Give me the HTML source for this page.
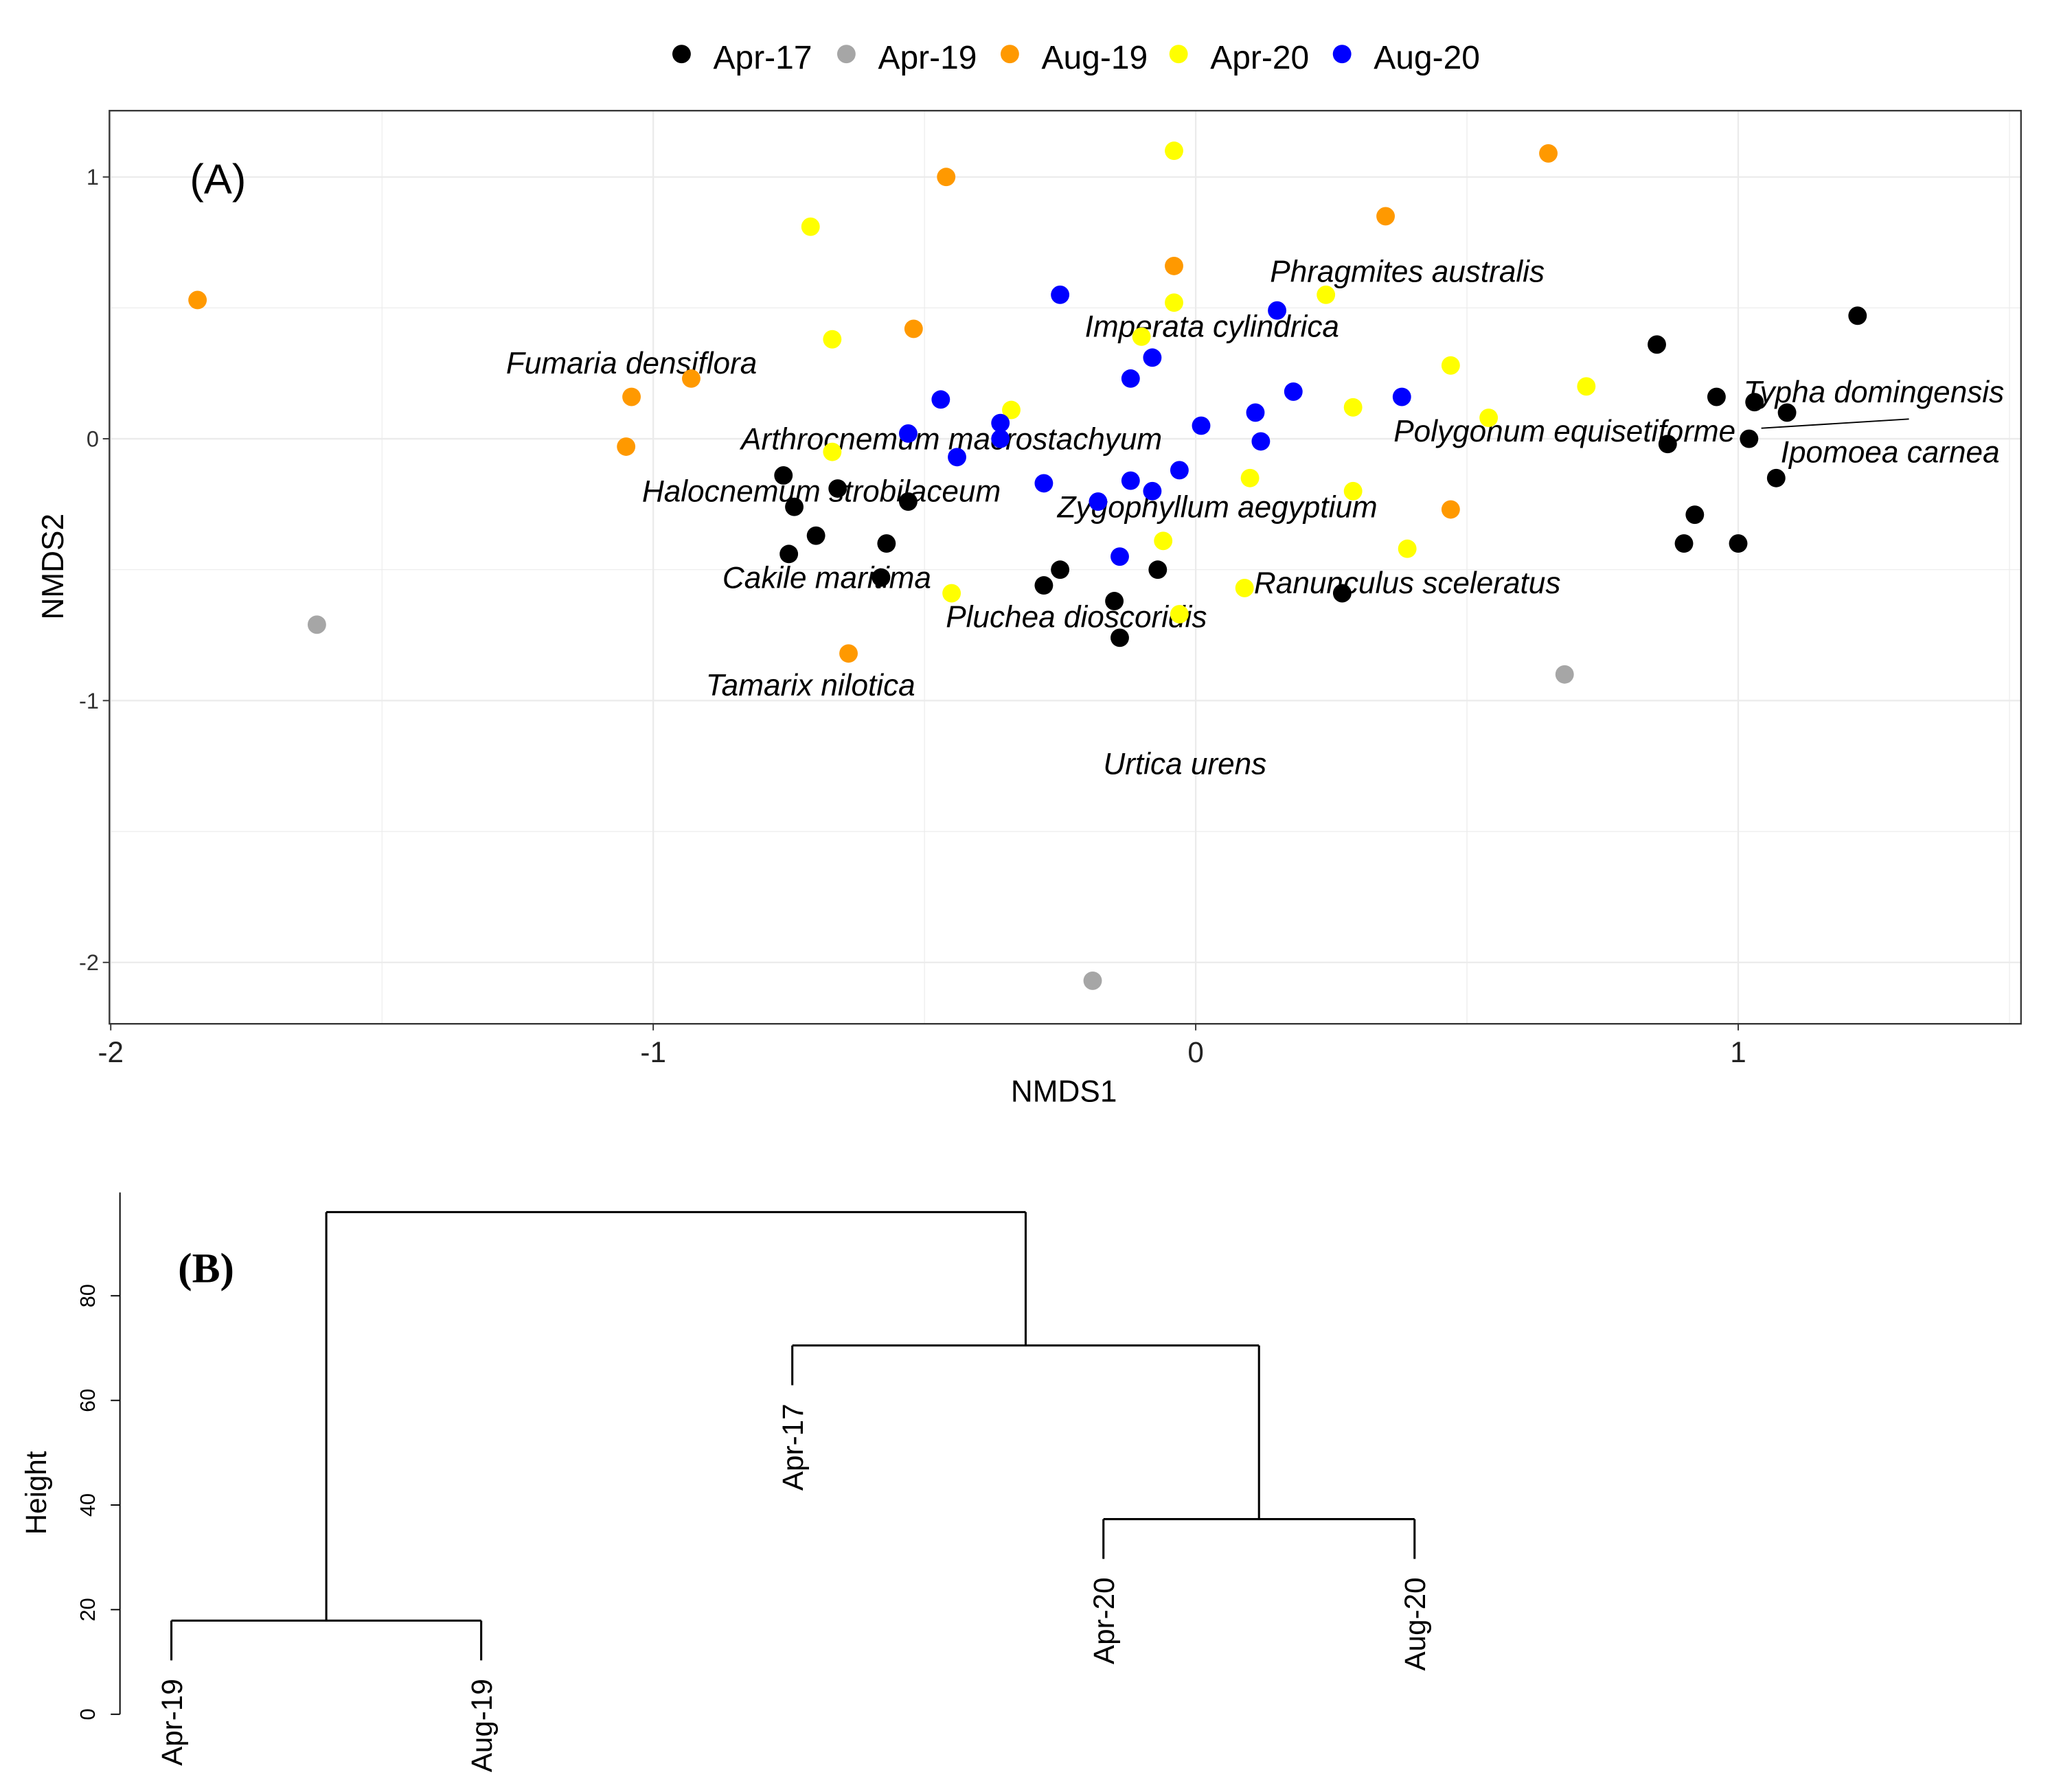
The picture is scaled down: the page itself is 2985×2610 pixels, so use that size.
<!DOCTYPE html>
<html><head><meta charset="utf-8"><style>
html,body{margin:0;padding:0;background:#fff;width:2985px;height:2610px;overflow:hidden}
svg{display:block}
text{font-family:"Liberation Sans",sans-serif}
</style></head><body>
<svg id="c" width="2985" height="2610" viewBox="0 0 1555 1360" preserveAspectRatio="none" xmlns="http://www.w3.org/2000/svg">
<rect width="1555" height="1360" fill="#fff"/>
<g id="pa"></g>
<g id="pb"></g>
</svg>
<script>
const groups = ["Apr-17","Apr-19","Aug-19","Apr-20","Aug-20"];
const colors = ["#000000","#a6a6a6","#ff9900","#ffff00","#0000ff"];
const apr17X = [-0.76,-0.74,-0.66,-0.53,-0.70,-0.75,-0.57,-0.58,-0.25,-0.28,-0.07,-0.15,-0.14,0.27,0.85,1.22,0.96,1.03,1.09,0.87,1.02,1.07,0.92,0.90,1.00];
const apr17Y = [-0.14,-0.26,-0.19,-0.24,-0.37,-0.44,-0.40,-0.53,-0.50,-0.56,-0.50,-0.62,-0.76,-0.59,0.36,0.47,0.16,0.14,0.10,-0.02,0.00,-0.15,-0.29,-0.40,-0.40];
const apr19X = [-1.62,0.68,-0.19];
const apr19Y = [-0.71,-0.90,-2.07];
const aug19X = [-1.84,-0.46,0.65,0.35,-0.04,-0.52,-0.93,-1.04,-1.05,0.47,-0.64];
const aug19Y = [0.53,1.00,1.09,0.85,0.66,0.42,0.23,0.16,-0.03,-0.27,-0.82];
const apr20X = [-0.71,-0.04,-0.04,-0.67,-0.10,0.24,0.47,0.72,-0.34,0.29,0.54,-0.67,0.10,0.29,-0.06,0.39,-0.45,0.09,-0.03];
const apr20Y = [0.81,1.10,0.52,0.38,0.39,0.55,0.28,0.20,0.11,0.12,0.08,-0.05,-0.15,-0.20,-0.39,-0.42,-0.59,-0.57,-0.67];
const aug20X = [-0.25,0.15,-0.08,-0.12,0.18,-0.47,0.38,-0.53,-0.36,-0.36,0.01,0.11,0.12,-0.44,-0.28,-0.12,-0.03,-0.18,-0.08,-0.14];
const aug20Y = [0.55,0.49,0.31,0.23,0.18,0.15,0.16,0.02,0.06,0.00,0.05,0.10,-0.01,-0.07,-0.17,-0.16,-0.12,-0.24,-0.20,-0.45];
const xTicks = [-2,-1,0,1];
const yTicks = [1,0,-1,-2];
const species = ["Phragmites australis","Imperata cylindrica","Fumaria densiflora","Typha domingensis","Polygonum equisetiforme","Arthrocnemum macrostachyum","Ipomoea carnea","Halocnemum strobilaceum","Zygophyllum aegyptium","Cakile maritima","Ranunculus sceleratus","Pluchea dioscoridis","Tamarix nilotica","Urtica urens"];
const speciesX = [0.39,0.03,-1.04,1.25,0.68,-0.45,1.28,-0.69,0.04,-0.68,0.39,-0.22,-0.71,-0.02];
const speciesY = [0.64,0.43,0.29,0.18,0.03,0.00,-0.05,-0.20,-0.26,-0.53,-0.55,-0.68,-0.94,-1.24];
const leaves = ["Apr-19","Aug-19","Apr-17","Apr-20","Aug-20"];
const mergeH = [17.9,37.3,70.5,96.0];
const hTicks = [0,20,40,60,80];

const NS="http://www.w3.org/2000/svg";
function mk(tag, attrs, parent, txt){const e=document.createElementNS(NS,tag);for(const k in attrs)e.setAttribute(k,attrs[k]);if(txt!==undefined)e.textContent=txt;parent.appendChild(e);return e;}
const pa=document.getElementById('pa'), pb=document.getElementById('pb');
const sx=v=>907+v*411.5, sy=v=>333-v*198.7;

for(const v of [-2,-1.5,-1,-0.5,0,0.5,1,1.5]){const l=mk('line',{x1:sx(v),x2:sx(v),y1:84,y2:777,stroke:'#ebebeb','stroke-width':v%1===0?1.2:0.6},pa);

}
for(const v of [1,0.5,0,-0.5,-1,-1.5,-2]){const l=mk('line',{x1:83,x2:1533,y1:sy(v),y2:sy(v),stroke:'#ebebeb','stroke-width':v%1===0?1.2:0.6},pa);

}
const fr=mk('rect',{x:83,y:84,width:1450,height:693,fill:'none',stroke:'#333','stroke-width':1.2},pa);


for(const v of xTicks){mk('line',{x1:sx(v),x2:sx(v),y1:777,y2:782,stroke:'#333'},pa);
const t=mk('text',{x:sx(v),y:806,'text-anchor':'middle','font-size':22,fill:'#222'},pa,String(v));

}
for(const v of yTicks){mk('line',{x1:78,x2:83,y1:sy(v),y2:sy(v),stroke:'#333'},pa);
const t=mk('text',{x:75,y:sy(v)+6,'text-anchor':'end','font-size':17,fill:'#333'},pa,String(v));

}
let t=mk('text',{x:807,y:836,'text-anchor':'middle','font-size':23},pa,'NMDS1');


t=mk('text',{x:48,y:430,'text-anchor':'middle','font-size':23,transform:'rotate(-90 48 430)'},pa,'NMDS2');


t=mk('text',{x:144,y:147,'font-size':32},pa,'(A)');



const pl=mk('line',{x1:1336,y1:325,x2:1448,y2:318,stroke:'#000','stroke-width':1},pa);


species.forEach((s,i)=>{const e=mk('text',{x:sx(speciesX[i]),y:sy(speciesY[i])+8,'text-anchor':'middle','font-size':23,'font-style':'italic'},pa,s);

});

const xs=[apr17X,apr19X,aug19X,apr20X,aug20X], ys=[apr17Y,apr19Y,aug19Y,apr20Y,aug20Y];
xs.forEach((arr,g)=>arr.forEach((x,i)=>{const c=mk('circle',{cx:sx(x),cy:sy(ys[g][i]),r:7,fill:colors[g]},pa);

}));

const lx=[517,642,766,894,1018];
groups.forEach((g,i)=>{const c=mk('circle',{cx:lx[i],cy:41,r:7,fill:colors[i]},pa);


const e=mk('text',{x:lx[i]+24,y:52,'font-size':25},pa,g);

});

const hy=v=>1301-v*3.97;
const lxB=[130,365,601,837,1073];
const hang=7.6;
const ax=mk('line',{x1:91,x2:91,y1:905,y2:1301,stroke:'#000'},pb);


for(const v of hTicks){mk('line',{x1:84,x2:91,y1:hy(v),y2:hy(v),stroke:'#000'},pb);
const e=mk('text',{x:72,y:hy(v),'text-anchor':'middle','font-size':16,transform:`rotate(-90 72 ${hy(v)})`},pb,String(v));

}
t=mk('text',{x:35,y:1133,'text-anchor':'middle','font-size':22,transform:'rotate(-90 35 1133)'},pb,'Height');


t=mk('text',{x:135,y:973,'font-size':32,'font-weight':'bold',style:'font-family:"Liberation Serif",serif'},pb,'(B)');


function seg(x1,y1,x2,y2){const l=mk('path',{d:`M${x1},${y1}L${x2},${y2}`,stroke:'#000','stroke-width':1.6,fill:'none'},pb);

}
function leaf(i,h){seg(lxB[i],hy(h),lxB[i],hy(h-hang));
const y=hy(h-hang)+14;
const e=mk('text',{x:lxB[i],y:y,'text-anchor':'end','font-size':22,transform:`rotate(-90 ${lxB[i]} ${y})`,dy:8},pb,leaves[i]);

}
seg(lxB[0],hy(mergeH[0]),lxB[1],hy(mergeH[0])); leaf(0,mergeH[0]); leaf(1,mergeH[0]);
seg(lxB[3],hy(mergeH[1]),lxB[4],hy(mergeH[1])); leaf(3,mergeH[1]); leaf(4,mergeH[1]);
const c2=(lxB[3]+lxB[4])/2;
seg(lxB[2],hy(mergeH[2]),c2,hy(mergeH[2])); leaf(2,mergeH[2]); seg(c2,hy(mergeH[2]),c2,hy(mergeH[1]));
const c3=(lxB[2]+c2)/2, c1=(lxB[0]+lxB[1])/2;
seg(c1,hy(mergeH[3]),c3,hy(mergeH[3])); seg(c1,hy(mergeH[3]),c1,hy(mergeH[0])); seg(c3,hy(mergeH[3]),c3,hy(mergeH[2]));
</script>
</body></html>
